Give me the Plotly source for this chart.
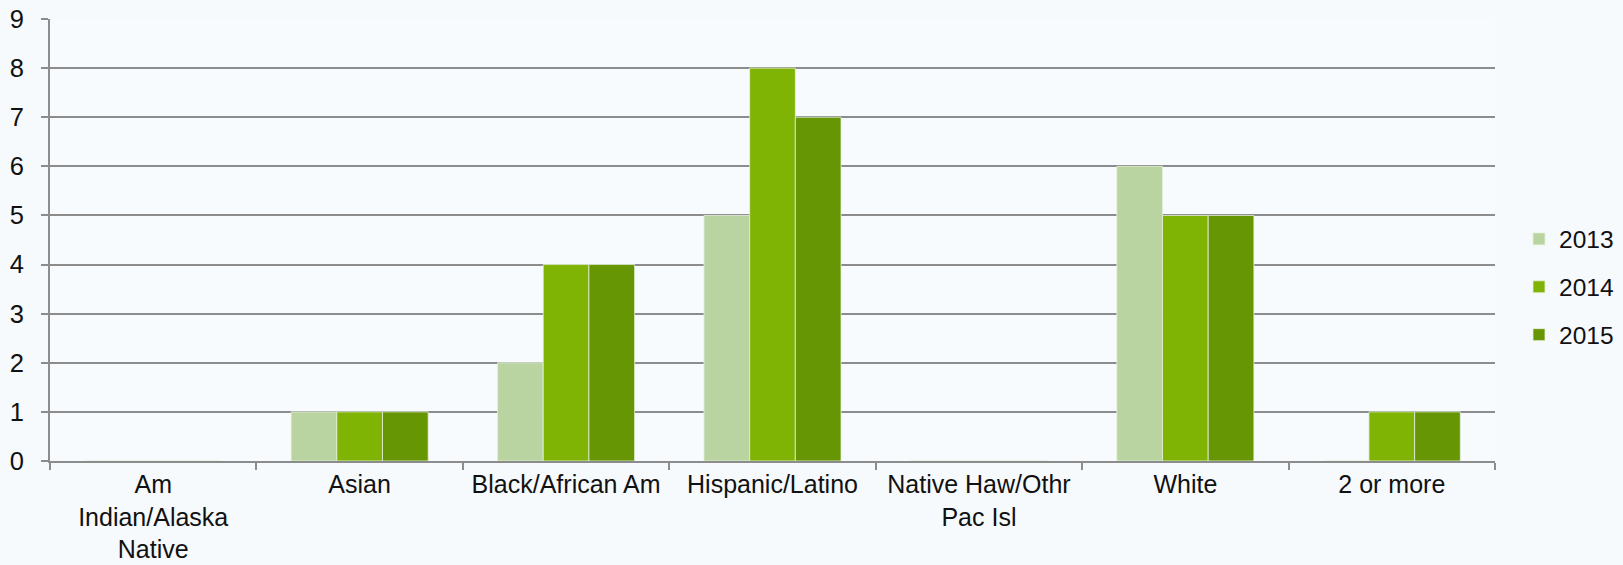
import plotly.graph_objects as go

categories = ["Am<br>Indian/Alaska<br>Native", "Asian", "Black/African Am", "Hispanic/Latino",
              "Native Haw/Othr<br>Pac Isl", "White", "2 or more"]
years = ["2013", "2014", "2015"]
values_2013 = [0, 1, 2, 5, 0, 6, 0]
values_2014 = [0, 1, 4, 8, 0, 5, 1]
values_2015 = [0, 1, 4, 7, 0, 5, 1]
colors = ["#B9D4A0", "#80B404", "#669603"]
y_ticks = list(range(0, 10))

fig = go.Figure()
for name, vals, col in zip(years, [values_2013, values_2014, values_2015], colors):
    fig.add_trace(go.Bar(
        x=categories, y=vals, name=name, legendgroup=name,
        marker=dict(color=col, line=dict(color="rgba(230,240,220,0.8)", width=1)),
    ))

W, H = 1623, 565
left, right, top, bottom = 50, 1495, 19, 461
font = dict(family="Liberation Sans, Arial, sans-serif", size=25.5, color="#111111")
xfont = dict(font, size=25)
legend_font = dict(font, size=24.5)

fig.update_layout(
    width=W, height=H,
    margin=dict(l=left, r=W - right, t=top, b=H - bottom, pad=0, autoexpand=False),
    paper_bgcolor="#F6FAFC", plot_bgcolor="#F8FBFD",
    barmode="group", bargap=0.336, bargroupgap=0,
    font=font,
    showlegend=True,
    legend=dict(x=(1519 - left) / (right - left), xanchor="left",
                y=(bottom - 287) / (bottom - top), yanchor="middle",
                traceorder="grouped", tracegroupgap=13, bgcolor="rgba(0,0,0,0)",
                font=legend_font),
)
fig.update_xaxes(
    type="category", tickson="boundaries", ticks="outside", ticklen=7, tickwidth=2,
    tickcolor="#8C8C8C", showline=True, linecolor="#8C8C8C", linewidth=2,
    showgrid=False, tickfont=xfont, ticklabelstandoff=0, automargin=False,
)
fig.update_yaxes(
    range=[0, 9], tickvals=y_ticks, ticks="outside", ticklen=7, tickwidth=2,
    tickcolor="#8C8C8C", showline=True, linecolor="#8C8C8C", linewidth=2,
    showgrid=True, gridcolor="#8C8C8C", gridwidth=2, zeroline=False,
    tickfont=font, ticklabelstandoff=12, automargin=False,
)

fig.write_html("out.html")
